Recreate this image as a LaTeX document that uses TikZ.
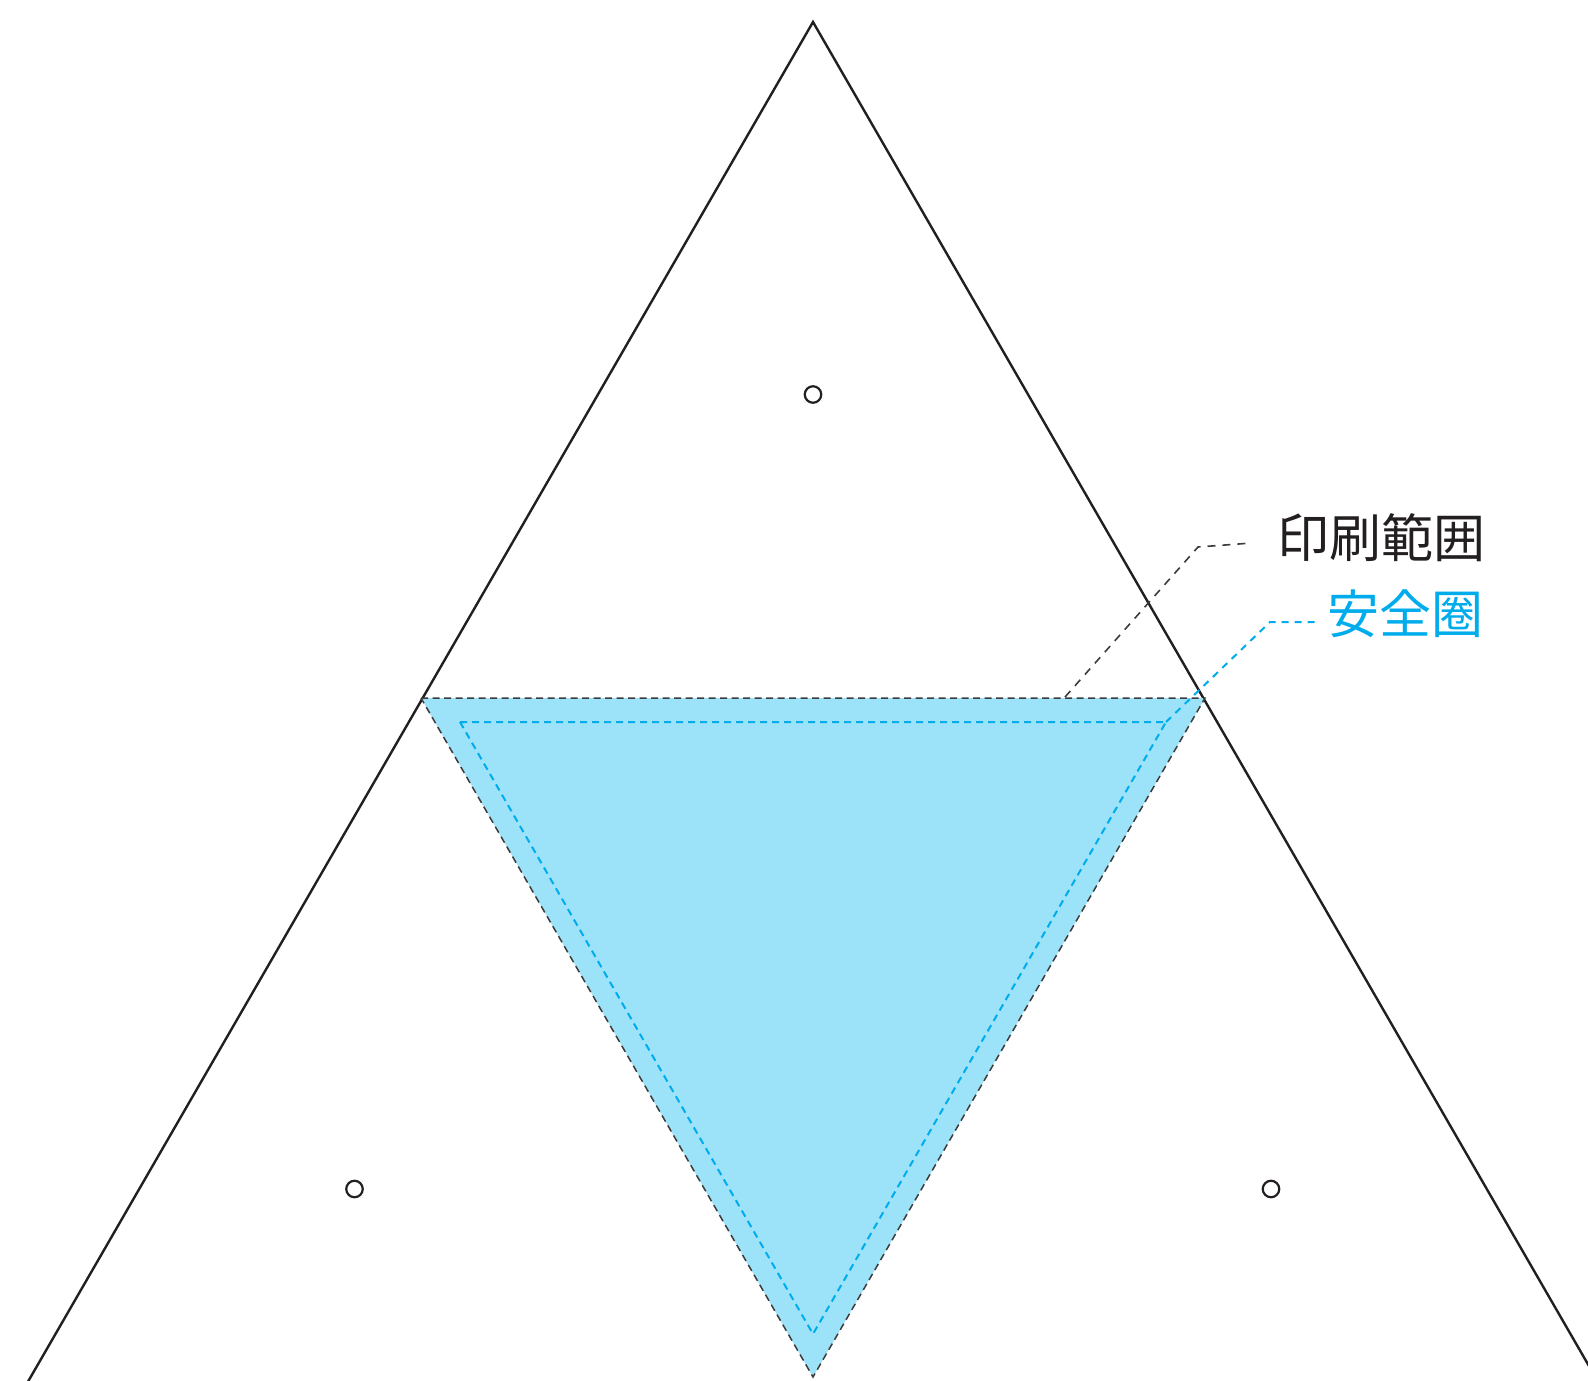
\documentclass[tikz,border=0pt]{standalone}
\usepackage{fontspec}
\newfontfamily\cjk{Noto Sans CJK JP}
\definecolor{inkblack}{RGB}{35,31,32}
\definecolor{dashgray}{RGB}{60,60,60}
\definecolor{safeblue}{RGB}{0,172,236}
\definecolor{fillblue}{RGB}{156,226,248}
\tikzset{
  outline/.style={draw=inkblack, line width=2.4pt, line join=miter},
  printdash/.style={draw=dashgray, line width=1.5pt, dash pattern=on 7pt off 4.5pt},
  safedash/.style={draw=safeblue, line width=2pt, dash pattern=on 7pt off 5pt},
  leaderblack/.style={draw=dashgray, line width=1.6pt, dash pattern=on 8pt off 7pt},
  leaderblue/.style={draw=safeblue, line width=2pt, dash pattern=on 7pt off 6pt},
  hole/.style={circle, draw=inkblack, line width=2.2pt, minimum size=16.5pt, inner sep=0pt},
  lbl/.style={anchor=west, inner sep=0pt, font=\cjk\fontsize{52}{60}\selectfont}
}
\begin{document}
\begin{tikzpicture}[x=1pt,y=-1pt]
\useasboundingbox (0,0) rectangle (1588,1381);
% big triangle (base below the page)
\coordinate (A) at (813,22);
\coordinate (BL) at (17.4,1400);
\coordinate (BR) at (1608.6,1400);
\draw[outline] (BL) -- (A) -- (BR);
% print area (inverted triangle)
\coordinate (P1) at (421,698);
\coordinate (P2) at (1205,698);
\coordinate (P3) at (813,1377);
\fill[fillblue] (P1) -- (P2) -- (P3) -- cycle;
\draw[printdash] (P1) -- (P2) -- (P3) -- cycle;
% safe area
\coordinate (S1) at (460,722);
\coordinate (S2) at (1166,722);
\coordinate (S3) at (813,1334);
\draw[safedash] (S1) -- (S2) -- (S3) -- cycle;
% holes
\node[hole] (h1) at (813,394.5) {};
\node[hole] (h2) at (354.5,1189) {};
\node[hole] (h3) at (1271,1189) {};
% labels
\node[lbl, text=inkblack] (lp) at (1277,538) {印刷範囲};
\node[lbl, text=safeblue] (ls) at (1327,614) {安全圈};
% leaders
\coordinate (LB0) at (1065,697);
\coordinate (LB1) at (1198,547);
\coordinate (LB2) at (1252,543);
\draw[leaderblack] (LB0) -- (LB1) -- (LB2);
\coordinate (LS1) at (1270,622);
\coordinate (LS2) at (1318,622);
\draw[leaderblue] (S2) -- (LS1) -- (LS2);
\end{tikzpicture}
\end{document}
